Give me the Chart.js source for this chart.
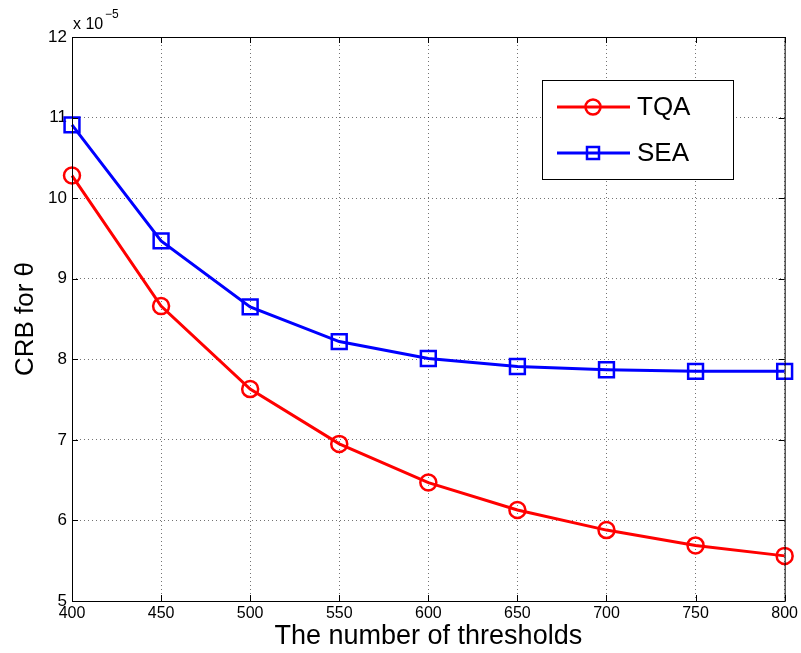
<!DOCTYPE html>
<html>
<head>
<meta charset="utf-8">
<script src="https://cdn.jsdelivr.net/npm/chart.js@4.4.1/dist/chart.umd.min.js"></script>
<style>
  html, body { margin: 0; padding: 0; background: #fff; }
  #wrap { width: 801px; height: 653px; }
</style>
</head>
<body>
<div id="wrap"><canvas id="crb"></canvas></div>
<script>
// values (units of 1e-5)
const thresholds = [400, 450, 500, 550, 600, 650, 700, 750, 800];
const tqaValues = [10.28, 8.66, 7.63, 6.95, 6.47, 6.13, 5.88, 5.69, 5.56];
const seaValues = [10.91, 9.47, 8.65, 8.22, 8.01, 7.91, 7.87, 7.85, 7.85];
const yTicks = [5, 6, 7, 8, 9, 10, 11, 12];

const FONT = "Liberation Sans, Arial, Helvetica, sans-serif";

function pairs(values) {
  return thresholds.map((x, i) => ({ x: x, y: values[i] }));
}

// box, inward ticks, exponent label and legend in MATLAB style
const matlabFrame = {
  id: "matlabFrame",
  afterDraw(chart) {
    const ctx = chart.ctx;
    const a = chart.chartArea;
    const xs = chart.scales.x;
    const ys = chart.scales.y;
    ctx.save();
    ctx.strokeStyle = "#000";
    ctx.lineWidth = 1;
    ctx.strokeRect(a.left + 0.5, a.top + 0.5, a.right - a.left, a.bottom - a.top);
    const len = 6;
    ctx.beginPath();
    thresholds.forEach((v) => {
      const px = Math.round(xs.getPixelForValue(v)) + 0.5;
      ctx.moveTo(px, a.bottom); ctx.lineTo(px, a.bottom - len);
      ctx.moveTo(px, a.top); ctx.lineTo(px, a.top + len);
    });
    yTicks.forEach((v) => {
      const py = Math.round(ys.getPixelForValue(v)) + 0.5;
      ctx.moveTo(a.left, py); ctx.lineTo(a.left + len, py);
      ctx.moveTo(a.right, py); ctx.lineTo(a.right - len, py);
    });
    ctx.stroke();

    // exponent
    ctx.fillStyle = "#000";
    ctx.textBaseline = "alphabetic";
    ctx.textAlign = "left";
    ctx.font = "16px " + FONT;
    ctx.fillText("x 10", a.left + 1, a.top - 8);
    ctx.font = "12px " + FONT;
    ctx.fillText("\u22125", a.left + 33, a.top - 19);

    // legend
    const lx = 542, ly = 80, lw = 191, lh = 99;
    ctx.fillStyle = "#fff";
    ctx.fillRect(lx, ly, lw, lh);
    ctx.strokeStyle = "#000";
    ctx.lineWidth = 1;
    ctx.strokeRect(lx + 0.5, ly + 0.5, lw, lh);
    const items = [
      { label: "TQA", color: "#ff0000", shape: "circle", y: ly + 27 },
      { label: "SEA", color: "#0000ff", shape: "square", y: ly + 73 }
    ];
    items.forEach((it) => {
      ctx.strokeStyle = it.color;
      ctx.lineWidth = 3;
      ctx.beginPath();
      ctx.moveTo(lx + 15, it.y);
      ctx.lineTo(lx + 88, it.y);
      ctx.stroke();
      ctx.lineWidth = 2.5;
      ctx.beginPath();
      if (it.shape === "circle") {
        ctx.arc(lx + 51, it.y, 7.5, 0, Math.PI * 2);
      } else {
        ctx.rect(lx + 45, it.y - 6, 12, 12);
      }
      ctx.stroke();
      ctx.fillStyle = "#000";
      ctx.font = "26px " + FONT;
      ctx.textBaseline = "middle";
      ctx.fillText(it.label, lx + 95, it.y + 1);
    });
    ctx.restore();
  }
};

new Chart(document.getElementById("crb"), {
  type: "line",
  data: {
    datasets: [
      {
        label: "TQA",
        data: pairs(tqaValues),
        borderColor: "#ff0000",
        borderWidth: 3,
        pointStyle: "circle",
        pointRadius: 8,
        pointBorderWidth: 2.5,
        pointBorderColor: "#ff0000",
        pointBackgroundColor: "rgba(0,0,0,0)",
        tension: 0,
        fill: false,
        clip: false
      },
      {
        label: "SEA",
        data: pairs(seaValues),
        borderColor: "#0000ff",
        borderWidth: 3,
        pointStyle: "rect",
        pointRadius: 10.5,
        pointBorderWidth: 2.5,
        pointBorderColor: "#0000ff",
        pointBackgroundColor: "rgba(0,0,0,0)",
        tension: 0,
        fill: false,
        clip: false
      }
    ]
  },
  options: {
    responsive: true,
    maintainAspectRatio: false,
    animation: false,
    layout: { padding: { top: 37, right: 15, left: 10, bottom: 0 } },
    plugins: {
      legend: { display: false },
      tooltip: { enabled: false }
    },
    scales: {
      x: {
        type: "linear",
        min: 400,
        max: 800,
        afterFit(scale) { scale.height = 52; },
        afterBuildTicks(scale) { scale.ticks = thresholds.map((v) => ({ value: v })); },
        ticks: {
          color: "#000",
          font: { family: FONT, size: 16 },
          padding: 3,
          maxRotation: 0
        },
        grid: {
          color: "rgba(0,0,0,0.55)",
          lineWidth: 1,
          drawTicks: false
        },
        border: { display: false, dash: [1, 3] },
        title: {
          display: true,
          text: "The number of thresholds",
          color: "#000",
          font: { family: FONT, size: 27 },
          padding: { top: 0, bottom: 0 }
        }
      },
      y: {
        type: "linear",
        min: 5,
        max: 12,
        afterFit(scale) { scale.width = 62; },
        afterBuildTicks(scale) { scale.ticks = yTicks.map((v) => ({ value: v })); },
        ticks: {
          color: "#000",
          font: { family: FONT, size: 17 },
          padding: 5
        },
        grid: {
          color: "rgba(0,0,0,0.55)",
          lineWidth: 1,
          drawTicks: false
        },
        border: { display: false, dash: [1, 3] },
        title: {
          display: true,
          text: "CRB for \u03b8",
          color: "#000",
          font: { family: FONT, size: 26 },
          padding: { top: 0, bottom: 8 }
        }
      }
    }
  },
  plugins: [matlabFrame]
});
</script>
</body>
</html>
